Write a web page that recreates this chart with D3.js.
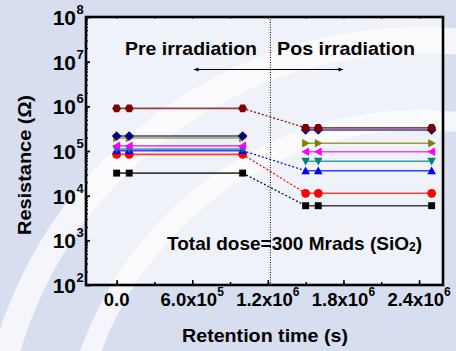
<!DOCTYPE html>
<html><head><meta charset="utf-8">
<script src="https://cdn.jsdelivr.net/npm/d3@7"></script>
<style>
html,body{margin:0;padding:0;background:#fff;}
svg{display:block;font-family:Arial,"Liberation Sans",sans-serif;font-weight:bold;}
</style></head>
<body>
<svg id="chart" width="456" height="351"></svg>
<script>
// ---- data ----
const seriesNames = ["black","red","blue","teal","magenta","olive","navy","darkred"];
const seriesColors = ["#000000","#ff0000","#0000ff","#008080","#ff00ff","#808000","#000080","#800000"];
const seriesSymbols = ["square","circle","triUp","triDown","triLeft","triRight","diamond","hexagon"];
const preTimes = [0, 1e5, 1e6];
const postTimes = [1.5e6, 1.6e6, 2.5e6];
const preValues = [3.2e4, 8.4e4, 1.02e5, 1.11e5, 1.3e5, 1.95e5, 2.17e5, 9.0e5];
const postValues = [5.96e3, 1.13e4, 3.6e4, 5.9e4, 9.6e4, 1.49e5, 2.95e5, 3.3e5];
const connected = ["black","red","blue","darkred"];
const xTickValues = [0, 6e5, 1.2e6, 1.8e6, 2.4e6];
const xTickMantissa = ["0.0", "6.0x10", "1.2x10", "1.8x10", "2.4x10"];
const xTickExp = ["", "5", "6", "6", "6"];
const yTickExp = [2,3,4,5,6,7,8];
const boundaryTime = 1.22e6;

const svg = d3.select("#chart");
const W = 456, H = 351;
const L = 86, R = 443, T = 17, B = 285;

// ---- watermark-like tinted background ----
const bg = svg.append("g");
bg.append("rect").attr("width", W).attr("height", H).attr("fill", "#d6deef");
[[430, 26], [350, 20]].forEach(([r, w]) => {
  bg.append("circle").attr("cx", 420).attr("cy", 470).attr("r", r)
    .attr("fill", "none").attr("stroke", "#f4f6fb").attr("stroke-width", w);
});

const x = d3.scaleLinear().domain([-2.43e5, 2.59e6]).range([L, R]);
const y = d3.scaleLog().domain([1e2, 1e8]).range([B, T]);

// lighter plot background
svg.append("rect").attr("x", L).attr("y", T).attr("width", R - L).attr("height", B - T)
  .attr("fill", "#ffffff").attr("opacity", 0.6);

// ---- axes ticks (inward) ----
const axisG = svg.append("g");
const xMinor = d3.range(0, 2.6e6, 3e5);
const xb = d3.axisBottom(x).tickValues(xMinor).tickSize(-3).tickFormat("");
axisG.append("g").attr("transform", `translate(0,${B})`).call(xb)
  .call(g => g.select(".domain").remove())
  .call(g => g.selectAll("line").attr("stroke", "#000").attr("stroke-width", 1.5));
const xbMaj = d3.axisBottom(x).tickValues(xTickValues).tickSize(-5).tickFormat("");
axisG.append("g").attr("transform", `translate(0,${B})`).call(xbMaj)
  .call(g => g.select(".domain").remove())
  .call(g => g.selectAll("line").attr("stroke", "#000").attr("stroke-width", 1.5));
const xt = d3.axisTop(x).tickValues(xMinor).tickSize(-2).tickFormat("");
axisG.append("g").attr("transform", `translate(0,${T})`).call(xt)
  .call(g => g.select(".domain").remove())
  .call(g => g.selectAll("line").attr("stroke", "#555").attr("stroke-width", 1));
const yMinorVals = [];
for (let e = 2; e < 8; e++) for (let m = 2; m <= 9; m++) yMinorVals.push(m * Math.pow(10, e));
const yl = d3.axisLeft(y).tickValues(yMinorVals).tickSize(-2).tickFormat("");
axisG.append("g").attr("transform", `translate(${L},0)`).call(yl)
  .call(g => g.select(".domain").remove())
  .call(g => g.selectAll("line").attr("stroke", "#000").attr("stroke-width", 1.2));
const ylMaj = d3.axisLeft(y).tickValues(yTickExp.map(e => Math.pow(10, e))).tickSize(-4).tickFormat("");
axisG.append("g").attr("transform", `translate(${L},0)`).call(ylMaj)
  .call(g => g.select(".domain").remove())
  .call(g => g.selectAll("line").attr("stroke", "#000").attr("stroke-width", 1.8));

// ---- vertical dotted boundary ----
svg.append("line").attr("x1", x(boundaryTime)).attr("x2", x(boundaryTime))
  .attr("y1", T).attr("y2", B).attr("stroke", "#000").attr("stroke-width", 1)
  .attr("stroke-dasharray", "1,1.5");

// ---- data ----
function sym(type) {
  const s = 4.3;
  switch (type) {
    case "square": return d3.symbol(d3.symbolSquare, 48)();
    case "circle": return d3.symbol(d3.symbolCircle, 60)();
    case "triUp": return `M0,${-s}L${s},${s*0.8}L${-s},${s*0.8}Z`;
    case "triDown": return `M0,${s}L${s},${-s*0.8}L${-s},${-s*0.8}Z`;
    case "triLeft": return `M${-s},0L${s*0.8},${-s}L${s*0.8},${s}Z`;
    case "triRight": return `M${s},0L${-s*0.8},${-s}L${-s*0.8},${s}Z`;
    case "diamond": return `M0,${-s-0.5}L${s+0.5},0L0,${s+0.5}L${-s-0.5},0Z`;
    case "hexagon": {
      const pts = d3.range(6).map(i => { const a = Math.PI / 3 * i; return [4.4 * Math.cos(a), 4.4 * Math.sin(a)]; });
      return "M" + pts.map(p => p.join(",")).join("L") + "Z";
    }
  }
}
const line = d3.line().x(d => x(d[0])).y(d => y(d[1]));
const dataG = svg.append("g");
seriesNames.forEach((name, i) => {
  const c = seriesColors[i];
  const pre = preTimes.map(t => [t, preValues[i]]);
  const post = postTimes.map(t => [t, postValues[i]]);
  dataG.append("path").attr("d", line(pre)).attr("fill", "none").attr("stroke", c)
    .attr("stroke-width", 1.6).attr("opacity", 0.75);
  dataG.append("path").attr("d", line(post)).attr("fill", "none").attr("stroke", c)
    .attr("stroke-width", 1.6).attr("opacity", 0.75);
  if (connected.includes(name)) {
    dataG.append("path").attr("d", line([pre[2], post[0]])).attr("fill", "none").attr("stroke", c)
      .attr("stroke-width", 1.2).attr("stroke-dasharray", "2,2");
  }
  pre.concat(post).forEach(p => {
    dataG.append("path").attr("d", sym(seriesSymbols[i]))
      .attr("transform", `translate(${x(p[0])},${y(p[1])})`).attr("fill", c);
  });
});

// ---- frame ----
svg.append("rect").attr("x", L).attr("y", T).attr("width", R - L).attr("height", B - T)
  .attr("fill", "none").attr("stroke", "#000").attr("stroke-width", 2.6);

// ---- tick labels ----
yTickExp.forEach(e => {
  const yy = y(Math.pow(10, e));
  svg.append("text").attr("x", 76).attr("y", yy + 8).attr("text-anchor", "end")
    .attr("font-size", 21).text("10");
  svg.append("text").attr("x", 76.5).attr("y", yy - 3).attr("font-size", 13).text(e);
});
xTickValues.forEach((v, i) => {
  const g = svg.append("text").attr("x", x(v)).attr("y", 306).attr("text-anchor", "middle")
    .attr("font-size", 18.5);
  g.append("tspan").text(xTickMantissa[i]);
  if (xTickExp[i]) g.append("tspan").attr("font-size", 12).attr("dy", -10).text(xTickExp[i]);
});

// ---- titles ----
svg.append("text").attr("x", 265).attr("y", 342).attr("text-anchor", "middle")
  .attr("font-size", 19).attr("textLength", 166).attr("lengthAdjust", "spacingAndGlyphs")
  .text("Retention time (s)");
svg.append("text").attr("transform", "translate(31,165) rotate(-90)").attr("text-anchor", "middle")
  .attr("font-size", 19).attr("textLength", 140).attr("lengthAdjust", "spacingAndGlyphs")
  .text("Resistance (Ω)");

// ---- annotations ----
svg.append("text").attr("x", 125).attr("y", 55).attr("font-size", 19)
  .attr("textLength", 132).attr("lengthAdjust", "spacingAndGlyphs").text("Pre irradiation");
svg.append("text").attr("x", 277).attr("y", 55).attr("font-size", 19)
  .attr("textLength", 138).attr("lengthAdjust", "spacingAndGlyphs").text("Pos irradiation");
const td = svg.append("text").attr("x", 167).attr("y", 250).attr("font-size", 19);
td.append("tspan").text("Total dose=300 Mrads (SiO");
td.append("tspan").attr("font-size", 12).attr("dy", 1).text("2");
td.append("tspan").attr("dy", -1).text(")");

// double arrow
const defs = svg.append("defs");
defs.append("marker").attr("id", "ah").attr("viewBox", "0 0 10 10").attr("refX", 9).attr("refY", 5)
  .attr("markerWidth", 8).attr("markerHeight", 5).attr("orient", "auto-start-reverse")
  .append("path").attr("d", "M0,1L10,5L0,9Z").attr("fill", "#000");
svg.append("line").attr("x1", 194).attr("x2", 343).attr("y1", 69.5).attr("y2", 69.5)
  .attr("stroke", "#000").attr("stroke-width", 1)
  .attr("marker-start", "url(#ah)").attr("marker-end", "url(#ah)");
</script>
</body></html>
